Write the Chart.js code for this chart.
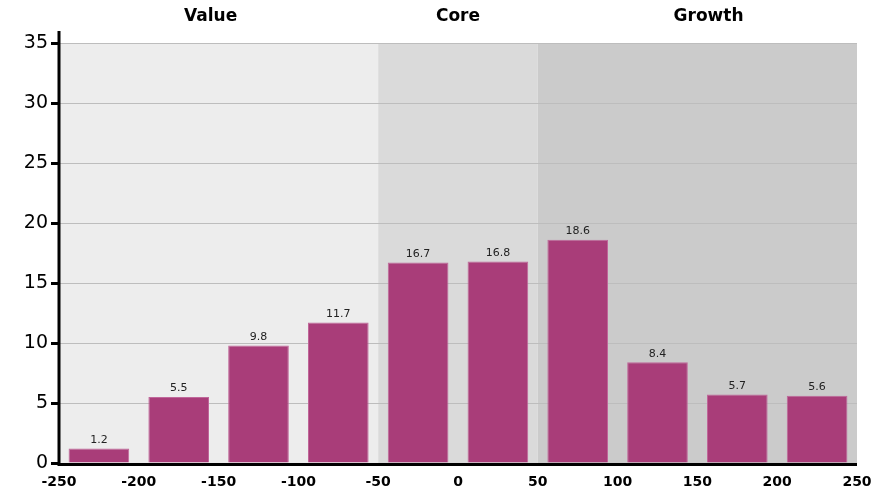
<!DOCTYPE html>
<html>
<head>
<meta charset="utf-8">
<script src="https://cdn.jsdelivr.net/npm/chart.js@4/dist/chart.umd.min.js"></script>
<style>
  html, body { margin: 0; padding: 0; background: #fff; }
  #wrap { width: 892px; height: 494px; position: relative; }
</style>
</head>
<body>
<div id="wrap"><canvas id="chart"></canvas></div>
<script>
// bar centres on the x axis and their heights
const binCenters = [-225, -175, -125, -75, -25, 25, 75, 125, 175, 225];
const binValues = [1.2, 5.5, 9.8, 11.7, 16.7, 16.8, 18.6, 8.4, 5.7, 5.6];

// style zones behind the bars
const zoneNames = ['Value', 'Core', 'Growth'];
const zoneFrom = [-250, -50, 50];
const zoneTo = [-50, 50, 250];
const zoneLabelAt = [-155, 0, 157];
const zoneColors = ['#ededed', '#dadada', '#cbcbcb'];

const FONT = '"DejaVu Sans", Verdana, sans-serif';
const BAR_COLOR = '#a93d79';

// draws zone bands, zone titles, value labels and the axis lines
const zonesPlugin = {
  id: 'zones',
  beforeDatasetsDraw(chart) {
    const { ctx, chartArea, scales: { x } } = chart;
    ctx.save();
    zoneNames.forEach((name, i) => {
      const l = x.getPixelForValue(zoneFrom[i]);
      const r = x.getPixelForValue(zoneTo[i]);
      ctx.fillStyle = zoneColors[i];
      ctx.fillRect(l, chartArea.top, r - l, chartArea.bottom - chartArea.top);
    });
    // y gridlines over the bands
    const y = chart.scales.y;
    ctx.strokeStyle = '#bdbdbd';
    ctx.lineWidth = 1;
    y.ticks.forEach(t => {
      const py = Math.round(y.getPixelForValue(t.value)) + 0.5;
      ctx.beginPath();
      ctx.moveTo(chartArea.left, py);
      ctx.lineTo(chartArea.right, py);
      ctx.stroke();
    });
    ctx.fillStyle = '#000';
    ctx.font = 'bold 17px ' + FONT;
    ctx.textAlign = 'center';
    ctx.textBaseline = 'middle';
    zoneNames.forEach((name, i) => {
      ctx.fillText(name, x.getPixelForValue(zoneLabelAt[i]), 17);
    });
    ctx.restore();
  },
  afterDatasetsDraw(chart) {
    const { ctx, chartArea } = chart;
    const meta = chart.getDatasetMeta(0);
    ctx.save();
    ctx.fillStyle = '#222';
    ctx.font = '11px ' + FONT;
    ctx.textAlign = 'center';
    ctx.textBaseline = 'bottom';
    meta.data.forEach((bar, i) => {
      ctx.fillText(binValues[i].toFixed(1), bar.x, bar.y - 3);
    });
    // axis lines
    ctx.strokeStyle = '#000';
    ctx.lineWidth = 3;
    ctx.beginPath();
    ctx.moveTo(chartArea.left, chartArea.top - 12);
    ctx.lineTo(chartArea.left, chartArea.bottom + 1.5);
    ctx.lineTo(chartArea.right, chartArea.bottom + 1.5);
    ctx.stroke();
    ctx.restore();
  }
};

new Chart(document.getElementById('chart'), {
  type: 'bar',
  data: {
    datasets: [{
      data: binCenters.map((c, i) => ({ x: c, y: binValues[i] })),
      backgroundColor: BAR_COLOR,
      borderColor: '#c0679a',
      borderWidth: { top: 1, left: 1, right: 1, bottom: 0 },
      barPercentage: 0.76,
      categoryPercentage: 1
    }]
  },
  options: {
    responsive: true,
    maintainAspectRatio: false,
    animation: false,
    layout: { padding: { top: 43, right: 35, left: 0, bottom: 0 } },
    plugins: { legend: { display: false }, tooltip: { enabled: false } },
    scales: {
      x: {
        type: 'linear',
        offset: false,
        min: -250,
        max: 250,
        grid: { display: false },
        border: { display: false },
        ticks: {
          stepSize: 50,
          color: '#000',
          padding: 3,
          maxRotation: 0,
          autoSkip: false,
          font: { family: FONT, size: 14, weight: 'bold' }
        },
        afterFit(scale) { scale.height = 31; }
      },
      y: {
        min: 0,
        max: 35,
        grid: {
          drawOnChartArea: false,
          tickColor: '#000',
          tickWidth: 3,
          tickLength: 8
        },
        border: { display: false },
        ticks: {
          stepSize: 5,
          color: '#000',
          padding: 3,
          font: { family: FONT, size: 19 }
        },
        afterFit(scale) { scale.width = 59; }
      }
    }
  },
  plugins: [zonesPlugin]
});
</script>
</body>
</html>
